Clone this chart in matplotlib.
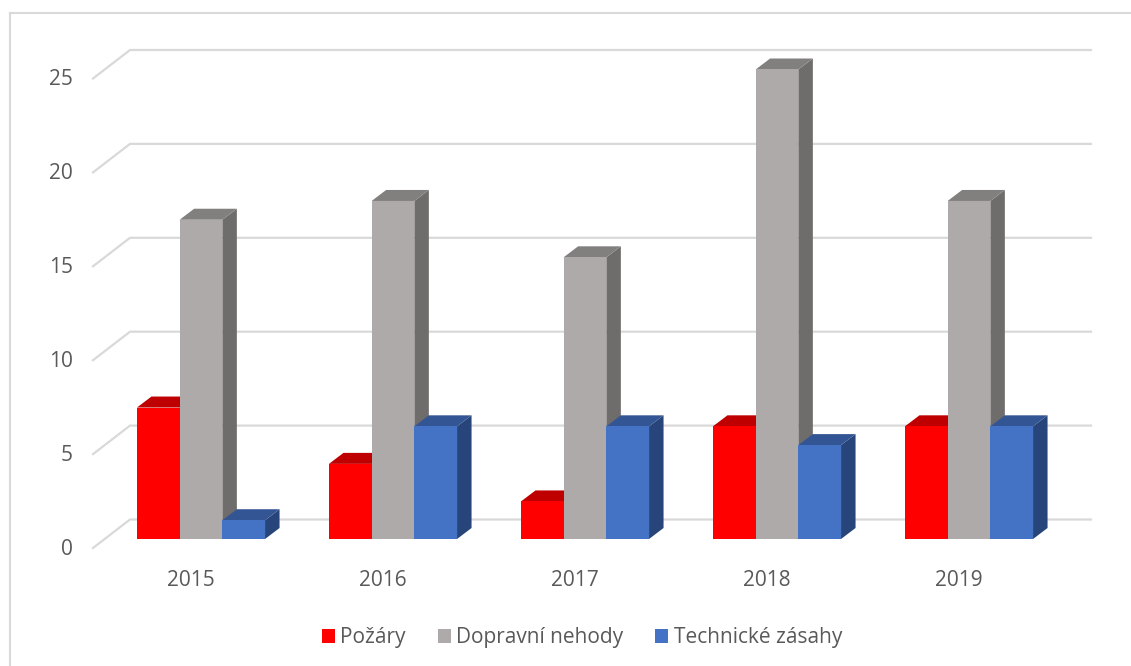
import matplotlib
matplotlib.use('Agg')
import matplotlib.pyplot as plt
from matplotlib.lines import Line2D
from matplotlib.patches import Patch
from matplotlib.transforms import ScaledTranslation

years = ['2015', '2016', '2017', '2018', '2019']
series_names = ['Požáry', 'Dopravní nehody', 'Technické zásahy']
pozary = [7, 4, 2, 6, 6]
dopravni = [17, 18, 15, 25, 18]
technicke = [1, 6, 6, 5, 6]
y_ticks = [0, 5, 10, 15, 20, 25]

W, H = 1131, 666
plt.rcParams['font.family'] = ['Open Sans', 'DejaVu Sans']
TXT = '#595959'
GRID = '#d9d9d9'
front = ['#ff0000', '#aeaaaa', '#4472c4']
top = ['#bf0000', '#827f7f', '#335593']
side = ['#a00000', '#6f6c6c', '#27457a']

fig = plt.figure(figsize=(W / 100, H / 100), dpi=100, facecolor='white')
L, R, B, T = 93, 1091, 539, 40
ax = fig.add_axes([L / W, 1 - B / H, (R - L) / W, (B - T) / H])
ax.patch.set_alpha(0)
PX_X, PX_Y = 192.0, 18.78
ax.set_xlim((L - 191) / PX_X, (R - 191) / PX_X)
ax.set_ylim(0, (B - T) / PX_Y)
for s in ax.spines.values():
    s.set_visible(False)

dx, dy = 14.5 / PX_X, 11 / PX_Y
bw = 42.7 / PX_X
shift = 10 / PX_X

# gridlines: front diagonal + back wall line
for v in y_ticks:
    yf = v - 9 / PX_Y
    yb = v + 19.5 / PX_Y
    ax.plot([ax.get_xlim()[0], ax.get_xlim()[0] + 37 / PX_X, ax.get_xlim()[1]],
            [yf, yb, yb], color=GRID, lw=1.6, clip_on=False, zorder=1,
            solid_joinstyle='miter')

# 3-D style columns
z = 2
for i in range(len(years)):
    for j, vals in enumerate([pozary, dopravni, technicke]):
        v = vals[i]
        x0 = i + shift + (j - 1.5) * bw
        x1 = x0 + bw
        ax.fill([x1, x1 + dx, x1 + dx, x1], [0, dy, v + dy, v], color=side[j], lw=0, zorder=z, clip_on=False)
        ax.fill([x0, x1, x1 + dx, x0 + dx], [v, v, v + dy, v + dy], color=top[j], lw=0, zorder=z, clip_on=False)
        ax.bar(x0, v, width=bw, align='edge', color=front[j], lw=0, zorder=z + 0.5)
        z += 1

FS = 15
ax.set_xticks(range(len(years)), years)
ax.set_yticks(y_ticks, [str(v) for v in y_ticks])
ax.tick_params(axis='both', length=0, labelsize=FS, labelcolor=TXT)
ax.tick_params(axis='x', pad=22)
ax.tick_params(axis='y', pad=14.5)
off = ScaledTranslation(0, -8 / 100, fig.dpi_scale_trans)
for lab in ax.get_yticklabels():
    lab.set_transform(lab.get_transform() + off)

em = FS * 100 / 72
handles = [Patch(color=c, lw=0) for c in front]
fig.legend(handles, series_names, loc='center', bbox_to_anchor=(582 / W, 1 - 638 / H),
           ncol=3, frameon=False, fontsize=FS, labelcolor=TXT,
           handlelength=13 / em, handleheight=13 / em, handletextpad=6 / em,
           columnspacing=31.5 / em, borderaxespad=0, borderpad=0)

# chart frame
fig.add_artist(Line2D([10 / W, 10 / W], [0, 1 - 13 / H], color=GRID, lw=1.5))
fig.add_artist(Line2D([10 / W, 1], [1 - 13 / H, 1 - 13 / H], color=GRID, lw=1.5))

fig.savefig('out.png', dpi=100)
